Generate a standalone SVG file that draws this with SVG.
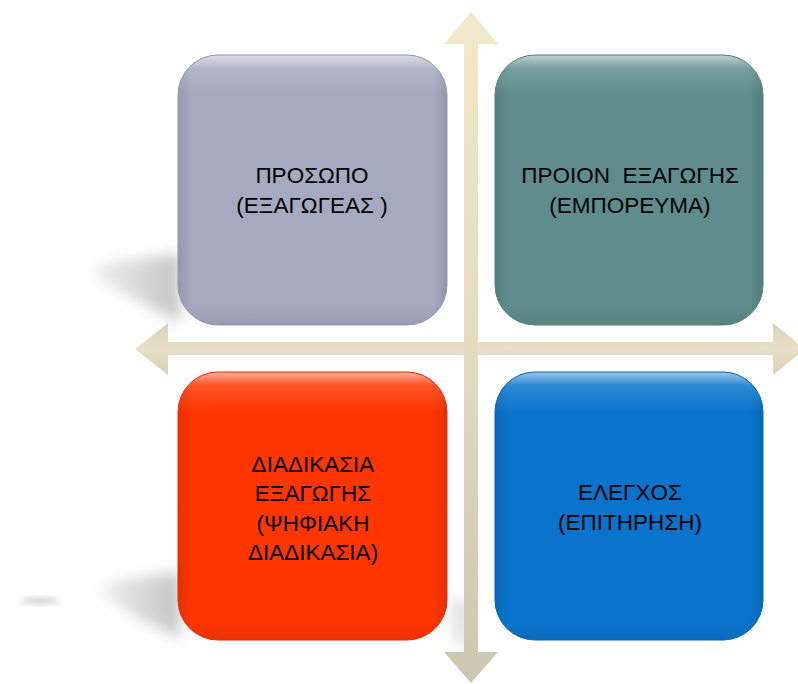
<svg xmlns="http://www.w3.org/2000/svg" width="798" height="684" viewBox="0 0 798 684">
<defs>
<style>
.lbl{font-family:"Liberation Sans","DejaVu Sans",sans-serif;font-size:22.5px;fill:#000;text-anchor:middle;white-space:pre}
</style>
<filter id="blur" x="-50%" y="-50%" width="200%" height="200%"><feGaussianBlur stdDeviation="7"/></filter>
<filter id="blur2" x="-50%" y="-50%" width="200%" height="200%"><feGaussianBlur stdDeviation="3"/></filter>
<linearGradient id="shL" x1="1" y1="0" x2="0" y2="0">
<stop offset="0" stop-color="#9a9a9a" stop-opacity="0.85"/>
<stop offset="1" stop-color="#c4c4c4" stop-opacity="0.45"/>
</linearGradient>
<linearGradient id="gloss" x1="0" y1="0" x2="0" y2="1">
<stop offset="0" stop-color="#fff" stop-opacity="0.6"/>
<stop offset="0.05" stop-color="#fff" stop-opacity="0.15"/>
<stop offset="0.15" stop-color="#fff" stop-opacity="0"/>
<stop offset="0.93" stop-color="#000" stop-opacity="0"/>
<stop offset="1" stop-color="#000" stop-opacity="0.08"/>
</linearGradient>
<linearGradient id="edge" x1="0" y1="0" x2="1" y2="0">
<stop offset="0" stop-color="#000" stop-opacity="0.1"/>
<stop offset="0.05" stop-color="#000" stop-opacity="0"/>
<stop offset="0.95" stop-color="#000" stop-opacity="0"/>
<stop offset="1" stop-color="#000" stop-opacity="0.12"/>
</linearGradient>
<linearGradient id="vArrow" x1="0" y1="0" x2="0" y2="1">
<stop offset="0" stop-color="#f1e9c9"/>
<stop offset="0.5" stop-color="#e2dbc0"/>
<stop offset="1" stop-color="#cdc6b0"/>
</linearGradient>
<linearGradient id="hArrow" x1="0" y1="0" x2="0" y2="1">
<stop offset="0" stop-color="#d9d2b8"/>
<stop offset="0.5" stop-color="#e8e1c8"/>
<stop offset="1" stop-color="#d6cfb6"/>
</linearGradient>
</defs>

<g id="shadows">
<polygon points="180,254 110,262 92,274 120,292 180,322" fill="url(#shL)" filter="url(#blur)" opacity="0.7"/>
<polygon points="180,572 120,580 98,590 130,614 180,638" fill="url(#shL)" filter="url(#blur)" opacity="0.7"/>
<ellipse cx="40" cy="601" rx="20" ry="3" fill="#aaa" filter="url(#blur2)" opacity="0.6"/>
<polygon points="450,600 470,600 470,650 455,640" fill="#bbb" filter="url(#blur)" opacity="0.45"/>
</g>

<g id="connectors">
<polygon id="h-arrow" points="135,349 168,323 168,342 773,342 773,323 805,349 773,375 773,355 168,355 168,375" fill="url(#hArrow)"/>
<polygon id="v-arrow" points="471,12 498,44 478,44 478,652 498,652 471,683 444,652 464,652 464,44 444,44" fill="url(#vArrow)"/>
</g>

<g id="node-person">
<rect x="178" y="55" width="269" height="270" rx="40" fill="#a6aac0"/>
<rect x="178" y="55" width="269" height="270" rx="40" fill="url(#edge)"/>
<rect x="178" y="55" width="269" height="270" rx="40" fill="url(#gloss)" stroke="#9397ad" stroke-width="1"/>
<text class="lbl" x="312" y="183">ΠΡΟΣΩΠΟ</text>
<text class="lbl" x="312" y="213">(ΕΞΑΓΩΓΕΑΣ )</text>
</g>

<g id="node-product">
<rect x="495" y="55" width="268" height="270" rx="40" fill="#5f8d8d"/>
<rect x="495" y="55" width="268" height="270" rx="40" fill="url(#edge)"/>
<rect x="495" y="55" width="268" height="270" rx="40" fill="url(#gloss)" stroke="#537d7d" stroke-width="1"/>
<text class="lbl" x="630" y="183">ΠΡΟΙΟΝ  ΕΞΑΓΩΓΗΣ</text>
<text class="lbl" x="630" y="213">(ΕΜΠΟΡΕΥΜΑ)</text>
</g>

<g id="node-process">
<rect x="178" y="372" width="269" height="268" rx="40" fill="#ff3600"/>
<rect x="178" y="372" width="269" height="268" rx="40" fill="url(#edge)"/>
<rect x="178" y="372" width="269" height="268" rx="40" fill="url(#gloss)" stroke="#e03000" stroke-width="1"/>
<text class="lbl" x="313" y="472">ΔΙΑΔΙΚΑΣΙΑ</text>
<text class="lbl" x="313" y="501">ΕΞΑΓΩΓΗΣ</text>
<text class="lbl" x="313" y="531">(ΨΗΦΙΑΚΗ</text>
<text class="lbl" x="313" y="560">ΔΙΑΔΙΚΑΣΙΑ)</text>
</g>

<g id="node-control">
<rect x="495" y="372" width="268" height="268" rx="40" fill="#0a74cc"/>
<rect x="495" y="372" width="268" height="268" rx="40" fill="url(#edge)"/>
<rect x="495" y="372" width="268" height="268" rx="40" fill="url(#gloss)" stroke="#0865b4" stroke-width="1"/>
<text class="lbl" x="630" y="500">ΕΛΕΓΧΟΣ</text>
<text class="lbl" x="630" y="530">(ΕΠΙΤΗΡΗΣΗ)</text>
</g>
</svg>
